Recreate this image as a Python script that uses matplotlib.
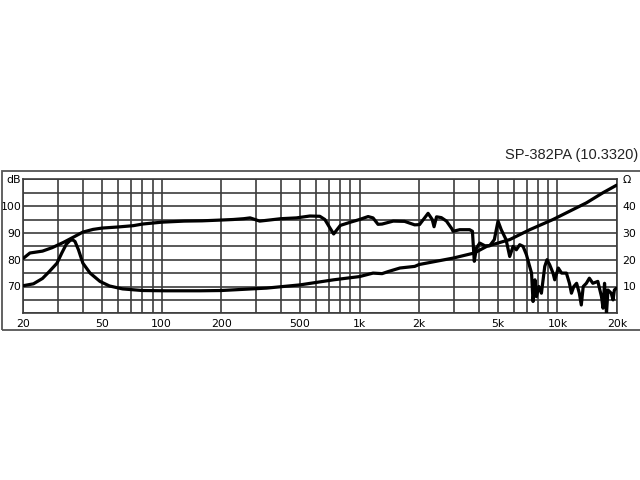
import matplotlib
matplotlib.use("Agg")
import matplotlib.pyplot as plt
from matplotlib.patches import Rectangle
from matplotlib.ticker import FixedLocator, NullFormatter

# ---- data ----
spl_freq = [20, 21.6, 23, 25, 28, 32, 36, 40, 45, 50, 60, 72, 80, 100, 130, 160, 200, 230,
            260, 280, 313, 350, 400, 480, 561, 630, 668, 700, 740, 800, 900, 1000, 1105,
            1170, 1240, 1300, 1480, 1690, 1900, 2010, 2220, 2330, 2380, 2450, 2590, 2750,
            2930, 2970, 3210, 3600, 3720, 3800, 3900, 4050, 4300, 4550, 4800, 5010, 5200,
            5500, 5740, 5970, 6200, 6450, 6700, 6970, 7200, 7400, 7530, 7700, 7830, 8050,
            8300, 8630, 8860, 9140, 9500, 9690, 10100, 10500, 11100, 11500, 11770, 12100,
            12500, 12900, 13200, 13500, 14000, 14500, 15100, 16000, 16700, 17000, 17300,
            17700, 18000, 18700, 19100, 19400, 19900]
spl_db = [80.5, 82.5, 82.8, 83.2, 84.5, 86.5, 88.5, 90.3, 91.3, 91.8, 92.2, 92.7, 93.3, 94.0,
          94.4, 94.5, 94.8, 95.0, 95.3, 95.6, 94.4, 94.8, 95.3, 95.6, 96.3, 96.2, 95.0, 92.5,
          89.6, 92.8, 94.0, 95.0, 96.1, 95.6, 93.2, 93.3, 94.4, 94.3, 93.0, 93.1, 97.3, 95.0,
          92.3, 96.0, 95.7, 94.4, 91.5, 90.6, 91.2, 91.2, 90.6, 79.4, 84.4, 86.2, 85.2, 85.2,
          87.5, 94.4, 91.2, 87.5, 81.2, 85.0, 83.7, 85.6, 85.0, 81.9, 78.1, 75.0, 64.4, 72.5,
          66.2, 70.0, 67.5, 77.5, 80.0, 78.1, 75.0, 72.5, 76.9, 75.0, 75.0, 71.2, 67.5, 70.0,
          71.2, 67.5, 63.1, 70.0, 71.2, 73.1, 71.2, 71.9, 66.2, 61.9, 71.2, 60.0, 68.7, 67.5,
          65.0, 68.7, 69.4]

imp_freq = [20, 22.5, 25, 27, 29.6, 31.3, 33, 34.5, 35.5, 36.5, 38, 40, 43.5, 48.8, 54.5,
            63.5, 80, 105, 156, 200, 339, 500, 740, 1000, 1170, 1300, 1400, 1600, 1900, 2000,
            2970, 3800, 4400, 5740, 7250, 9500, 14000, 17000, 19900]
imp_ohm = [10.3, 11.0, 13.0, 15.5, 18.7, 22.5, 25.8, 27.2, 27.4, 26.8, 23.7, 18.7, 15.0, 11.9,
           10.2, 9.1, 8.5, 8.4, 8.4, 8.5, 9.4, 10.6, 12.5, 13.7, 15.0, 14.8, 15.6, 16.9, 17.5,
           18.2, 20.6, 22.5, 25.0, 27.5, 31.2, 35.0, 41.2, 45.0, 47.8]

x_major = [20, 50, 100, 200, 500, 1000, 2000, 5000, 10000, 20000]
x_labels = ["20", "50", "100", "200", "500", "1k", "2k", "5k", "10k", "20k"]
x_grid = [20, 30, 40, 50, 60, 70, 80, 90, 100, 200, 300, 400, 500, 600, 700, 800, 900,
          1000, 2000, 3000, 4000, 5000, 6000, 7000, 8000, 9000, 10000, 20000]
db_ticks = [70, 80, 90, 100, 110]
db_labels = ["70", "80", "90", "100", "dB"]
ohm_ticks = [10, 20, 30, 40, 50]
ohm_labels = ["10", "20", "30", "40", "\u03a9"]
title = "SP-382PA (10.3320)"

grid_col = "#3c3c3c"

fig = plt.figure(figsize=(6.4, 4.8), dpi=100)
fig.patch.set_facecolor("white")

# outer frame
fig.patches.append(Rectangle((1.5 / 640, 1 - 329.5 / 480), 700 / 640, 158 / 480,
                             transform=fig.transFigure, fill=False,
                             edgecolor="#555555", lw=1.3))

ax = fig.add_axes([23.3 / 640, 1 - 313.3 / 480, (617 - 23.3) / 640, 134 / 480])
ax.set_xscale("log")
ax.set_xlim(20, 20000)
ax.set_ylim(60, 110)

ax.xaxis.set_major_locator(FixedLocator(x_major))
ax.set_xticklabels(x_labels)
ax.xaxis.set_minor_locator(FixedLocator(x_grid))
ax.xaxis.set_minor_formatter(NullFormatter())
ax.set_yticks(db_ticks)
ax.set_yticklabels(db_labels)

for xv in x_grid:
    ax.axvline(xv, color=grid_col, lw=1.2, zorder=1)
for yv in range(60, 111, 5):
    ax.axhline(yv, color=grid_col, lw=1.2, zorder=1)

ax.tick_params(axis="both", which="both", length=0, labelsize=7.8, colors="black")
ax.tick_params(axis="x", pad=4)
ax.tick_params(axis="y", pad=1.5)
for s in ax.spines.values():
    s.set_color(grid_col)
    s.set_linewidth(1.2)

ax.plot(spl_freq, spl_db, color="black", lw=2.3, solid_joinstyle="round",
        solid_capstyle="round", zorder=3)

ax2 = ax.twinx()
ax2.set_ylim(0, 50)
ax2.set_yticks(ohm_ticks)
ax2.set_yticklabels(ohm_labels)
ax2.tick_params(axis="y", length=0, labelsize=7.8, pad=4)
for s in ax2.spines.values():
    s.set_visible(False)
ax2.plot(imp_freq, imp_ohm, color="black", lw=2.3, solid_joinstyle="round",
         solid_capstyle="round", zorder=3)

fig.text(638 / 640, 1 - 155 / 480, title, ha="right", va="center",
         fontsize=10.5, family="Liberation Sans", color="#222222")

fig.savefig("out.png", dpi=100)
